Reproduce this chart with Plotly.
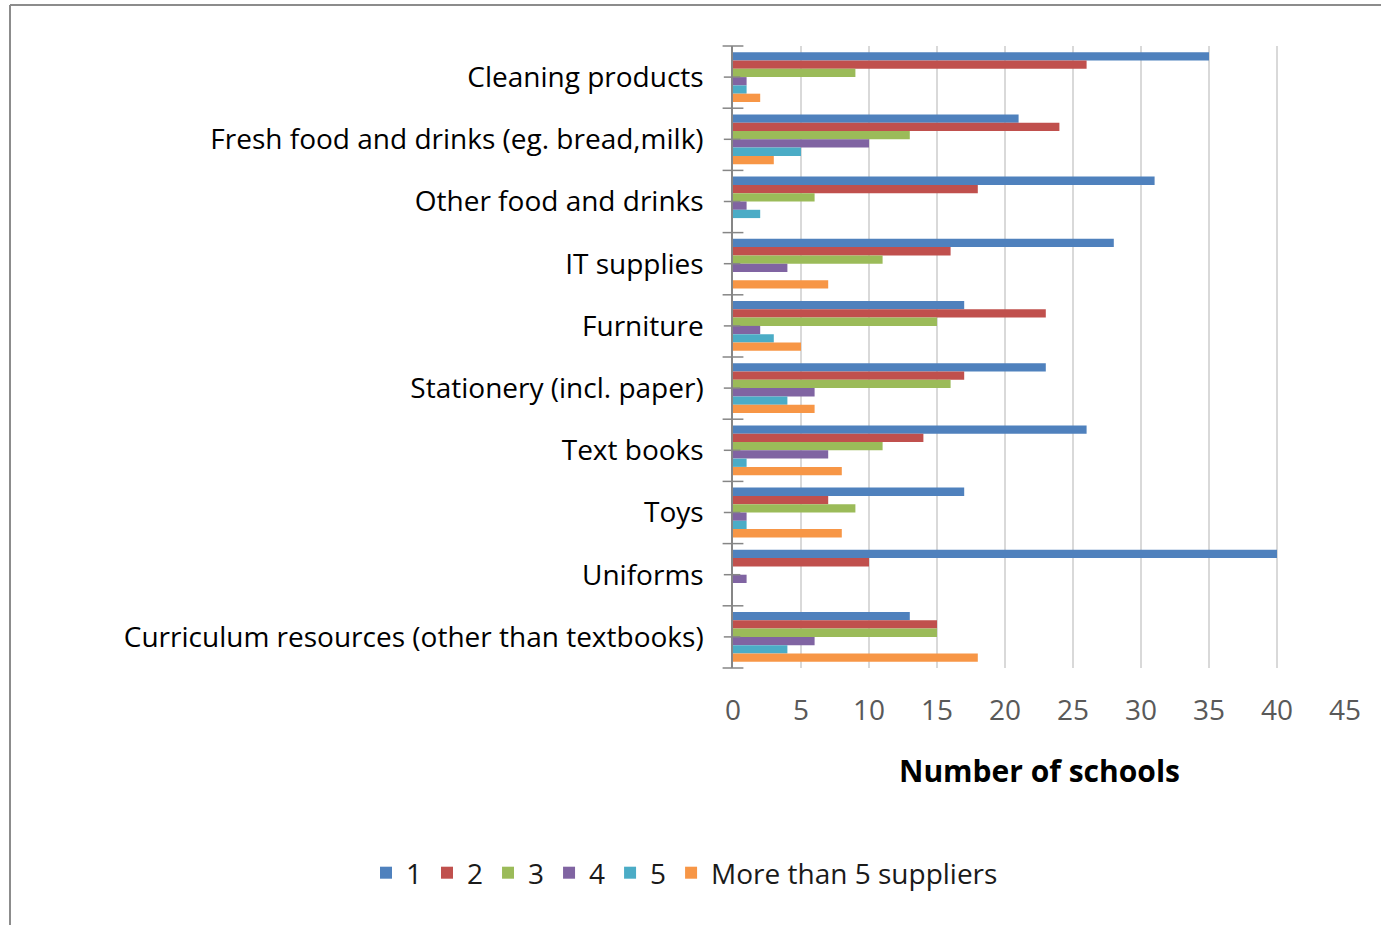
import plotly.graph_objects as go

# Product categories, listed top to bottom
categories = [
    "Cleaning products",
    "Fresh food and drinks (eg. bread,milk)",
    "Other food and drinks",
    "IT supplies",
    "Furniture",
    "Stationery (incl. paper)",
    "Text books",
    "Toys",
    "Uniforms",
    "Curriculum resources (other than textbooks)",
]

# Number of schools by number of suppliers used
one_supplier = [35, 21, 31, 28, 17, 23, 26, 17, 40, 13]
two_suppliers = [26, 24, 18, 16, 23, 17, 14, 7, 10, 15]
three_suppliers = [9, 13, 6, 11, 15, 16, 11, 9, 0, 15]
four_suppliers = [1, 10, 1, 4, 2, 6, 7, 1, 1, 6]
five_suppliers = [1, 5, 2, 0, 3, 4, 1, 1, 0, 4]
more_than_five = [2, 3, 0, 7, 5, 6, 8, 8, 0, 18]

series_names = ["1", "2", "3", "4", "5", "More than 5 suppliers"]
series_values = [one_supplier, two_suppliers, three_suppliers,
                 four_suppliers, five_suppliers, more_than_five]
colors = ["#4F81BD", "#C0504D", "#9BBB59", "#8064A2", "#4BACC6", "#F79646"]

x_ticks = [0, 5, 10, 15, 20, 25, 30, 35, 40, 45]

FONT = "'Open Sans', Calibri, Lato, sans-serif"

# Plot-area geometry in pixels (used to place frame, legend and title)
L, T, W, H = 733, 46, 612, 622
BOTTOM = T + H

fig = go.Figure()
for name, vals, col in zip(series_names, series_values, colors):
    fig.add_trace(go.Bar(
        y=categories, x=vals, name=name, orientation="h",
        marker=dict(color=col, line=dict(width=0)),
    ))

# Short tick marks at each category centre, crossing the value axis
shapes = []
for cat in categories:
    shapes.append(dict(type="line", xref="paper", yref="y",
                       x0=-0.015, x1=0.012, y0=cat, y1=cat,
                       line=dict(color="#868686", width=1.5)))
# Boundary ticks that cross the axis
n = len(categories)
for i in range(n + 1):
    shapes.append(dict(type="line", xref="paper", yref="paper",
                       x0=-0.017, x1=0.017, y0=i / n, y1=i / n,
                       line=dict(color="#868686", width=1.5)))
# Chart frame: top and left edges
fx = (10 - L) / W
fy_top = (BOTTOM - 5) / H
fy_bot = (BOTTOM - 930) / H
shapes.append(dict(type="line", xref="paper", yref="paper",
                   x0=fx, x1=1.1, y0=fy_top, y1=fy_top,
                   line=dict(color="#8c8c8c", width=2)))
shapes.append(dict(type="line", xref="paper", yref="paper",
                   x0=fx, x1=fx, y0=fy_top, y1=fy_bot,
                   line=dict(color="#8c8c8c", width=2)))

fig.update_layout(
    width=1381, height=925,
    margin=dict(l=L, r=1381 - L - W, t=T, b=925 - BOTTOM, autoexpand=False),
    paper_bgcolor="white", plot_bgcolor="white",
    barmode="group", bargap=0.2, bargroupgap=0,
    font=dict(family=FONT, color="#000000"),
    shapes=shapes,
    showlegend=True,
    legend=dict(
        orientation="h", xref="paper", yref="paper",
        x=(366 - L) / W, y=(BOTTOM - 873) / H, xanchor="left", yanchor="middle",
        font=dict(size=28, color="#1a1a1a", family=FONT),
        itemwidth=30, tracegroupgap=0,
    ),
    annotations=[dict(
        text="<b>Number of schools</b>", xref="paper", yref="paper",
        x=0.5, y=(BOTTOM - 770) / H, xanchor="center", yanchor="middle",
        showarrow=False, font=dict(size=30, color="#000000", family=FONT),
    )],
    xaxis=dict(
        range=[0, 45], tickvals=x_ticks, showgrid=True,
        gridcolor="#d9d9d9", gridwidth=1.5, zeroline=False,
        showline=False, ticks="",
        tickfont=dict(size=28, color="#595959", family=FONT),
        ticklabelstandoff=23,
    ),
    yaxis=dict(
        autorange="reversed", type="category",
        showline=True, linecolor="#868686", linewidth=1.5,
        ticks="", showgrid=False,
        tickfont=dict(size=28, color="#000000", family=FONT),
        ticklabelstandoff=22,
    ),
)

fig.write_html("out.html")
